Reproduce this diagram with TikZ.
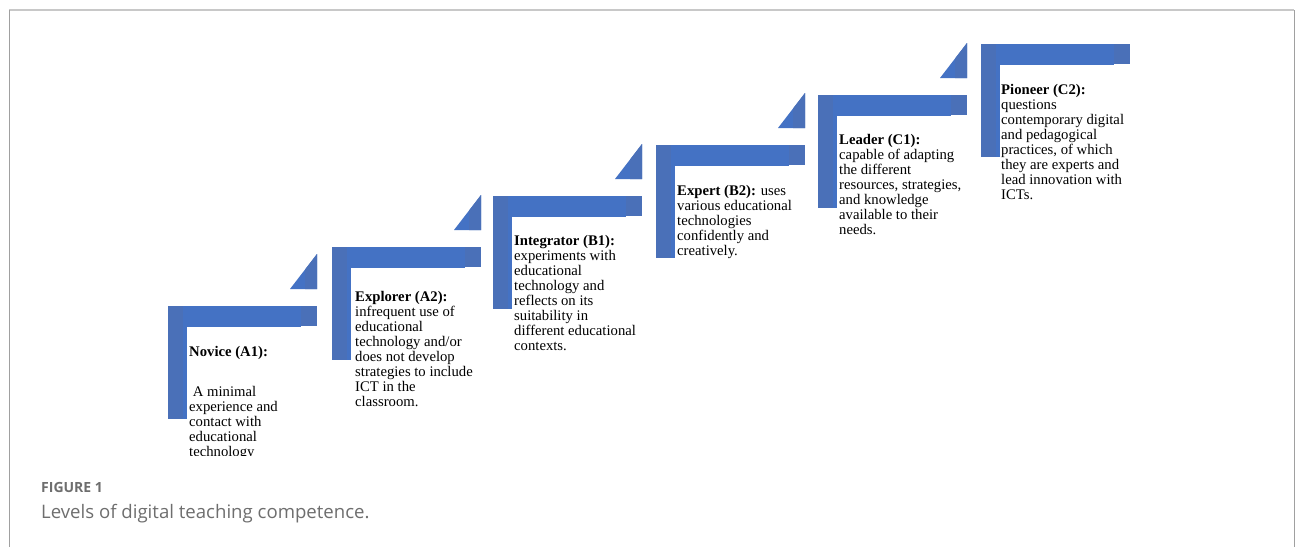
\documentclass[tikz,border=0pt]{standalone}
\usepackage{fontspec}
\setmainfont{Liberation Serif}
\newfontfamily\capfont{Open Sans}
\definecolor{stepblue}{HTML}{4472C4}
\definecolor{stepshade}{HTML}{4A70B8}
\definecolor{framegray}{HTML}{C8C8C8}
\definecolor{sidegray}{HTML}{A0A0A0}
\definecolor{captiongray}{HTML}{6E6E6E}
\tikzset{
  barmain/.style={fill=stepblue, draw=none},
  barshade/.style={fill=stepshade, draw=none},
  leveltext/.style={anchor=north west, inner sep=0pt, align=left,
    font=\fontsize{14.7}{15}\selectfont},
  captitle/.style={anchor=west, inner sep=0pt, text=captiongray,
    font=\capfont\bfseries\fontsize{14}{16}\selectfont},
  captext/.style={anchor=west, inner sep=0pt, text=captiongray,
    font=\capfont\fontsize{18.6}{21}\selectfont},
}
\newcommand\levelstep[3]{%
  % #1 left x, #2 top y, #3 draw triangle (1/0)
  \fill[barshade] (#1,#2) rectangle (#1+19,#2+113);
  \fill[barmain] (#1+15,#2) rectangle (#1+133,#2+21);
  \fill[barshade] (#1+133,#2) rectangle (#1+149,#2+20);
  \fill[barmain] (#1+15,#2+21) rectangle (#1+19,#2+113);
  \ifnum#3=1
    \fill[barmain] (#1+149,#2-52) -- (#1+122,#2-17) -- (#1+149,#2-17) -- cycle;
    \fill[barshade] (#1+137,#2-36.4) -- (#1+149,#2-52) -- (#1+149,#2-17) -- (#1+137,#2-17) -- cycle;
  \fi
}
\begin{document}
\begin{tikzpicture}[x=1pt,y=-1pt]
\useasboundingbox (0,0) rectangle (1296,547);
\fill[white] (0,0) rectangle (1296,547);
% frame
\draw[framegray, line width=2pt] (9,10) -- (1294,10);
\draw[sidegray, line width=1pt] (9.5,10) -- (9.5,547);
\draw[sidegray, line width=1pt] (1294.5,10) -- (1294.5,547);

% steps
\levelstep{168}{306}{1}
\levelstep{332}{247}{1}
\levelstep{493}{196}{1}
\levelstep{656}{145}{1}
\levelstep{818}{95}{1}
\levelstep{981}{44}{0}

% texts
\node[leveltext] (novicet) at (189,346) {\textbf{Novice (A1):}};
\begin{scope}
\clip (180,300) rectangle (400,455);
\node[leveltext] (noviceb) at (189,386) {\hspace{3.7pt}A minimal\\experience and\\contact with\\educational\\technology};
\end{scope}
\node[leveltext] (explorer) at (355,291) {\textbf{Explorer (A2):}\\infrequent use of\\educational\\technology and/or\\does not develop\\strategies to include\\ICT in the\\classroom.};
\node[leveltext] (integrator) at (514,235) {\textbf{Integrator (B1):}\\experiments with\\educational\\technology and\\reflects on its\\suitability in\\different educational\\contexts.};
\node[leveltext] (expert) at (677,185) {\textbf{Expert (B2):} uses\\various educational\\technologies\\confidently and\\creatively.};
\node[leveltext] (leader) at (839,134) {\textbf{Leader (C1):}\\capable of adapting\\the different\\resources, strategies,\\and knowledge\\available to their\\needs.};
\node[leveltext] (pioneer) at (1001,84) {\textbf{Pioneer (C2):}\\questions\\contemporary digital\\and pedagogical\\practices, of which\\they are experts and\\lead innovation with\\ICTs.};

% caption
\node[captitle] (figlabel) at (41,487) {FIGURE 1};
\node[captext] (figcaption) at (41,514) {Levels of digital teaching competence.};
\end{tikzpicture}
\end{document}
